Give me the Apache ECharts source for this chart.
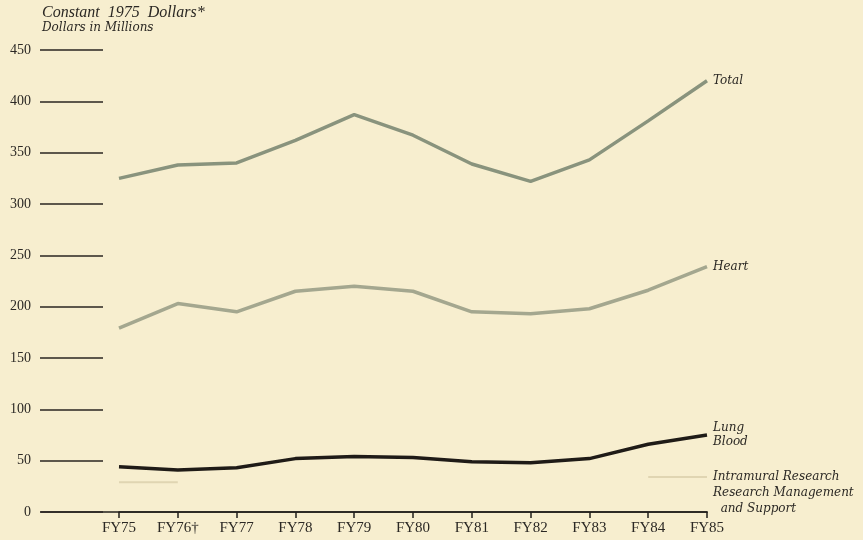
<!DOCTYPE html>
<html>
  <head>
    <title></title>
    <meta charset="UTF-8" />
    <script src="https://cdn.jsdelivr.net/npm/echarts@6/dist/echarts.min.js"></script>
    <style>
      body { margin: 0; background: #f7eecf; }
    </style>
  </head>
  <body>
    <div id="main"></div>
    <script>
      const width = 863;
      const height = 540;
      const main = document.getElementById('main');
      main.style.width = `${width}px`;
      main.style.height = `${height}px`;

      // fiscal years on the x axis
      const years = ['FY75', 'FY76†', 'FY77', 'FY78', 'FY79', 'FY80', 'FY81', 'FY82', 'FY83', 'FY84', 'FY85'];
      // constant 1975 dollars, millions
      const total = [325, 338, 340, 362, 387, 367, 339, 322, 343, 381, 420];
      const heart = [179, 203, 195, 215, 220, 215, 195, 193, 198, 216, 239];
      const lungBlood = [44, 41, 43, 52, 54, 53, 49, 48, 52, 66, 75];
      const intramural = [29, 29, null, null, null, null, null, null, null, 34, 34];

      const serif = '"Liberation Serif", "DejaVu Serif", serif';
      const wideSerif = '"DejaVu Serif", "Liberation Serif", serif';
      const endLabel = (text, extra) => Object.assign({
        show: true,
        formatter: text,
        distance: 6,
        color: '#2b2824',
        fontFamily: wideSerif,
        fontStyle: 'italic',
        fontSize: 12,
        lineHeight: 14,
      }, extra || {});

      const myChart = echarts.init(main);
      const option = {
        backgroundColor: '#f7eecf',
        animation: false,
        title: {
          text: 'Constant  1975  Dollars*',
          subtext: 'Dollars in Millions',
          left: 37,
          top: 0,
          itemGap: 1,
          textStyle: {
            fontFamily: serif,
            fontStyle: 'italic',
            fontWeight: 'normal',
            fontSize: 16,
            color: '#2b2824',
          },
          subtextStyle: {
            fontFamily: wideSerif,
            fontStyle: 'italic',
            fontSize: 12,
            color: '#2b2824',
          },
        },
        grid: [
          { left: 119, right: 156, top: 50, bottom: 28 },
          { left: 41, right: 156, top: 50, bottom: 28 },
        ],
        xAxis: [
          {
            type: 'category',
            gridIndex: 0,
            data: years,
            boundaryGap: false,
            axisLine: { show: true, lineStyle: { color: '#221f1b', width: 1.5 } },
            axisTick: { show: true, length: 6, lineStyle: { color: '#221f1b', width: 1.5 } },
            axisLabel: {
              margin: 9,
              fontFamily: serif,
              fontSize: 15,
              color: '#2b2824',
            },
            splitLine: { show: false },
          },
          {
            type: 'value',
            gridIndex: 1,
            min: 0,
            max: 1,
            axisLine: { show: true, lineStyle: { color: '#221f1b', width: 1.5 } },
            axisTick: { show: false },
            axisLabel: { show: false },
            splitLine: { show: false },
          },
        ],
        yAxis: [
          {
            type: 'value',
            gridIndex: 0,
            min: 0,
            max: 450,
            interval: 50,
            offset: 79,
            axisLine: { show: false },
            axisTick: {
              show: true,
              inside: true,
              length: 63,
              lineStyle: { color: '#2a2520', width: 1.6 },
            },
            axisLabel: {
              margin: 9,
              fontFamily: serif,
              fontSize: 14,
              color: '#2b2824',
            },
            splitLine: { show: false },
          },
          { type: 'value', gridIndex: 1, show: false, min: 0, max: 450 },
        ],
        series: [
          {
            name: 'Intramural Research',
            type: 'line',
            data: intramural,
            showSymbol: false,
            lineStyle: { color: '#e0d5b2', width: 2 },
            endLabel: endLabel('Intramural Research\nResearch Management\n  and Support', {
              verticalAlign: 'top',
              offset: [0, -8],
              lineHeight: 16,
            }),
          },
          {
            name: 'Total',
            type: 'line',
            data: total,
            showSymbol: false,
            lineStyle: { color: '#89937d', width: 3.5 },
            endLabel: endLabel('Total'),
          },
          {
            name: 'Heart',
            type: 'line',
            data: heart,
            showSymbol: false,
            lineStyle: { color: '#a4a78f', width: 3.5 },
            endLabel: endLabel('Heart'),
          },
          {
            name: 'Lung Blood',
            type: 'line',
            data: lungBlood,
            showSymbol: false,
            lineStyle: { color: '#1f1b17', width: 3.5 },
            endLabel: endLabel('Lung\nBlood'),
          },
        ],
      };
      myChart.setOption(option);
    </script>
  </body>
</html>
